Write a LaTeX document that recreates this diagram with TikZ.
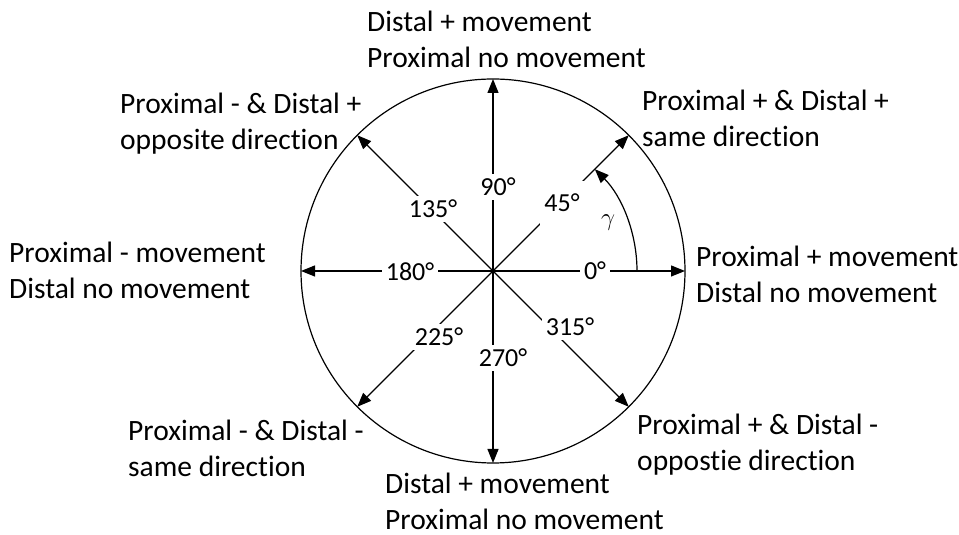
\documentclass[tikz,border=0pt]{standalone}
\usepackage{fontspec}
\setmainfont{Carlito}[Ligatures=NoCommon]
\usetikzlibrary{arrows.meta, calc}

\begin{document}
\begin{tikzpicture}[
        x=1pt, y=1pt,
        ray/.style={-{Triangle[length=14pt, width=11pt]}, line width=1.2pt},
        deg/.style={fill=white, inner sep=4pt, font=\fontsize{26}{31}\selectfont},
        desc/.style={anchor=west, align=left, inner sep=0pt,
            font=\fontsize{29.5}{36}\selectfont},
        ]
        \useasboundingbox (0,0) rectangle (959,535);
        \coordinate (O) at (493,264);

        % Outer circle
        \draw[line width=1.2pt] (O) circle[radius=192];

        % Rays to the circle
        \foreach \ang/\nm in {0/e, 45/ne, 90/n, 135/nw, 180/w, 225/sw, 270/s, 315/se} {
            \coordinate (tip-\nm) at ($(O)+(\ang:192)$);
            \draw[ray] (O) -- (tip-\nm);
        }

        % Angle labels on the rays
        \node[deg] (d0)   at (595,264) {0°};
        \node[deg, minimum height=44pt] (d45) at (562,332) {45°};
        \node[deg] (d90)  at (498,348) {90°};
        \node[deg] (d135) at (433,326) {135°};
        \node[deg] (d180) at (410,263) {180°};
        \node[deg] (d225) at (439,198) {225°};
        \node[deg] (d270) at (503,177) {270°};
        \node[deg] (d315) at (570,208) {315°};

        % Angle gamma
        \coordinate (g0) at ($(O)+(144,0)$);
        \draw[ray] (g0) arc[start angle=0, end angle=45, radius=144];
        \node[font=\fontsize{26}{30}\selectfont] (gam) at (608,312) {$\gamma$};

        % Movement descriptions
        \node[desc] (tN)  at (367,496) {Distal + movement\\Proximal no movement};
        \node[desc] (tNW) at (120,411) {Proximal - \& Distal +\\opposite direction};
        \node[desc] (tNE) at (642,417) {Proximal + \& Distal +\\same direction};
        \node[desc] (tW)  at (9,265)   {Proximal - movement\\Distal no movement};
        \node[desc] (tE)  at (696,261) {Proximal + movement\\Distal no movement};
        \node[desc] (tSW) at (128,87)  {Proximal - \& Distal -\\same direction};
        \node[desc] (tSE) at (637,90)  {Proximal + \& Distal -\\oppostie direction};
        \node[desc] (tS)  at (385,34)  {Distal + movement\\Proximal no movement};
    \end{tikzpicture}
\end{document}
